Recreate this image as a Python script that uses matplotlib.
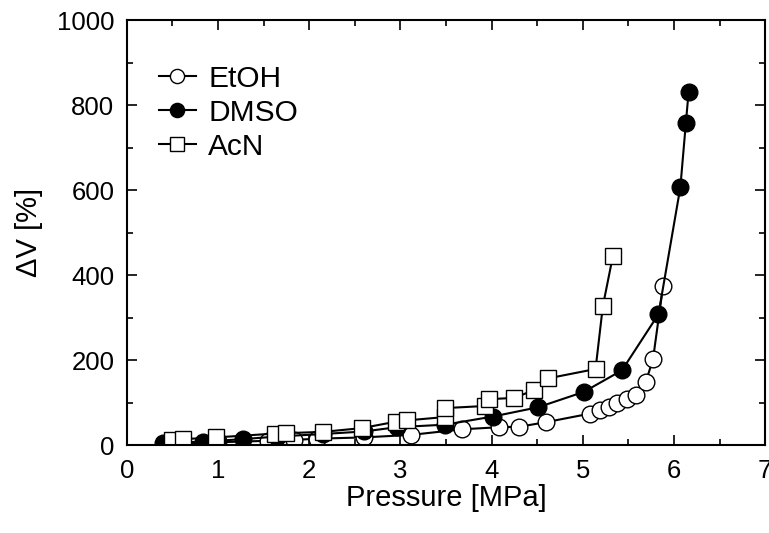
import matplotlib.pyplot as plt
from matplotlib.ticker import MultipleLocator

plt.rcParams['font.family'] = ['Liberation Sans', 'DejaVu Sans']

# data
etoh_p = [0.58, 1.55, 1.83, 2.09, 2.60, 3.12, 3.67, 4.08, 4.30, 4.60,
          5.08, 5.19, 5.29, 5.38, 5.49, 5.58, 5.69, 5.77, 5.88]
etoh_v = [4, 10, 12, 15, 18, 24, 37, 42, 43, 54,
          74, 82, 89, 99, 108, 118, 148, 202, 374]

dmso_p = [0.40, 0.83, 1.00, 1.27, 1.65, 2.15, 2.60, 2.96, 3.49, 4.01,
          4.51, 5.01, 5.43, 5.83, 6.07, 6.13, 6.16]
dmso_v = [5, 8, 10, 14, 20, 26, 32, 42, 48, 67,
          89, 125, 176, 308, 607, 757, 830]

acn_p = [0.50, 0.62, 0.98, 1.62, 1.74, 2.15, 2.58, 2.95, 3.07, 3.49,
         3.49, 3.93, 3.97, 4.25, 4.46, 4.62, 5.14, 5.22, 5.33]
acn_v = [13, 14, 18, 27, 28, 31, 40, 55, 58, 66,
         87, 92, 108, 111, 129, 157, 179, 327, 445]

fig = plt.figure(figsize=(7.69, 5.33), dpi=100)
ax = fig.add_axes([0.165, 0.165, 0.83, 0.797])

style = dict(color='black', lw=1.5, markersize=12, markeredgewidth=1.0,
             markeredgecolor='black')
ax.plot(etoh_p, etoh_v, marker='o', markerfacecolor='white', label='EtOH', **style)
ax.plot(dmso_p, dmso_v, marker='o', markerfacecolor='black', label='DMSO', **style)
ax.plot(acn_p, acn_v, marker='s', markerfacecolor='white', label='AcN', **style)

ax.set_xlim(0, 7)
ax.set_ylim(0, 1000)
ax.xaxis.set_major_locator(MultipleLocator(1))
ax.xaxis.set_minor_locator(MultipleLocator(0.5))
ax.yaxis.set_major_locator(MultipleLocator(200))
ax.yaxis.set_minor_locator(MultipleLocator(100))
ax.tick_params(which='both', direction='in', top=True, right=True,
               labelsize=18.5, width=1.2)
ax.tick_params(which='major', length=7)
ax.tick_params(which='minor', length=4)
ax.tick_params(axis='x', which='major', pad=10)
ax.tick_params(axis='y', which='major', pad=9)
for s in ax.spines.values():
    s.set_linewidth(1.5)

ax.set_xlabel('Pressure [MPa]', fontsize=21, labelpad=1)
ax.set_ylabel('ΔV [%]', fontsize=21, labelpad=10)

ax.legend(loc='upper left', bbox_to_anchor=(0.05, 0.895), frameon=False,
          borderpad=0, borderaxespad=0,
          fontsize=21.5, handlelength=1.25, handletextpad=0.4, labelspacing=0.2,
          markerscale=0.85)

fig.savefig('out.png', dpi=100)
